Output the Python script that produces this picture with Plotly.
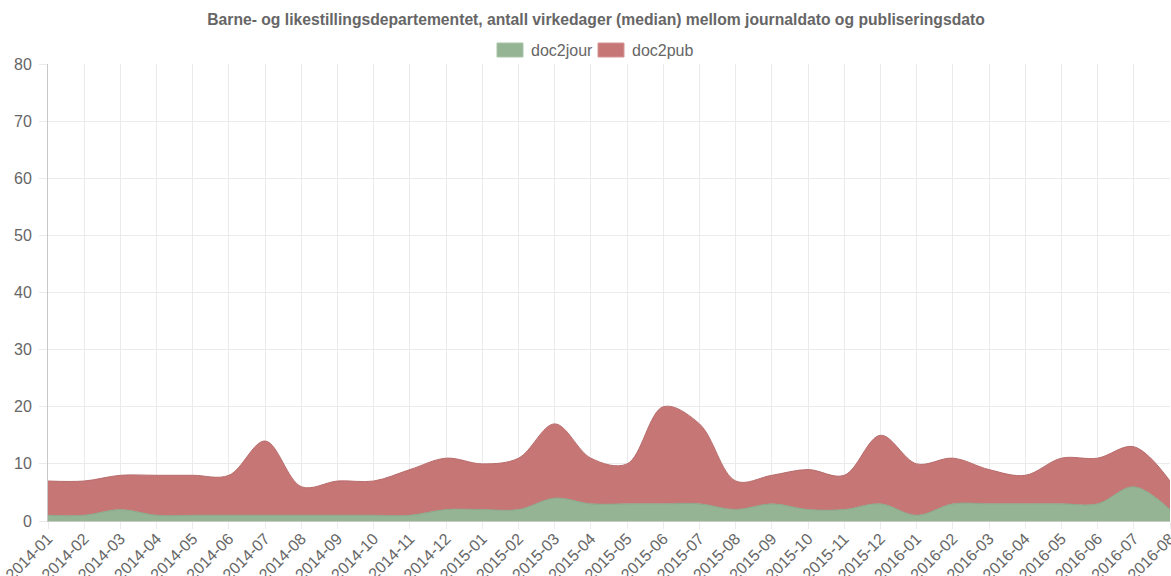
import plotly.graph_objects as go

# ── Data: median working days, Barne- og likestillingsdepartementet ──
months = [
    "2014-01", "2014-02", "2014-03", "2014-04", "2014-05", "2014-06",
    "2014-07", "2014-08", "2014-09", "2014-10", "2014-11", "2014-12",
    "2015-01", "2015-02", "2015-03", "2015-04", "2015-05", "2015-06",
    "2015-07", "2015-08", "2015-09", "2015-10", "2015-11", "2015-12",
    "2016-01", "2016-02", "2016-03", "2016-04", "2016-05", "2016-06",
    "2016-07", "2016-08",
]
doc2jour = [1, 1, 2, 1, 1, 1, 1, 1, 1, 1, 1, 2,
            2, 2, 4, 3, 3, 3, 3, 2, 3, 2, 2, 3,
            1, 3, 3, 3, 3, 3, 6, 2]
doc2pub = [6, 6, 6, 7, 7, 7, 13, 5, 6, 6, 8, 9,
           8, 9, 13, 8, 7, 17, 14, 5, 5, 7, 6, 12,
           9, 8, 6, 5, 8, 8, 7, 5]
y_ticks = [0, 10, 20, 30, 40, 50, 60, 70, 80]
series_names = ["doc2jour", "doc2pub"]

GREEN = "#94b494"
RED = "#c77676"
TEXT = "#666666"
GRID = "#ebebeb"

# plot area in pixels (used only to place the hand-drawn legend)
PX_L, PX_R, PX_T, PX_B = 48, 1170, 64, 521


def px_x(px):
    return (px - PX_L) / (PX_R - PX_L)


def px_y(py):
    return (PX_B - py) / (PX_B - PX_T)


fig = go.Figure()

fig.add_trace(go.Scatter(
    name=series_names[0],
    x=months,
    y=doc2jour,
    mode="lines",
    stackgroup="one",
    line=dict(color="#8aa88a", width=1, shape="spline", smoothing=1),
    fillcolor=GREEN,
))

fig.add_trace(go.Scatter(
    name=series_names[1],
    x=months,
    y=doc2pub,
    mode="lines",
    stackgroup="one",
    line=dict(color="#b86c6c", width=1, shape="spline", smoothing=1),
    fillcolor=RED,
))

# ── Chart.js-style legend: wide boxes + labels ───────────────
legend_items = [(497, GREEN, "#a9c4a9"), (598, RED, "#d69494")]
shapes = []
annotations = []
for (left, fill, border), name in zip(legend_items, series_names):
    shapes.append(dict(
        type="rect", xref="paper", yref="paper",
        x0=px_x(left), x1=px_x(left + 26),
        y0=px_y(57), y1=px_y(43),
        fillcolor=fill, line=dict(color=border, width=1),
    ))
    annotations.append(dict(
        xref="paper", yref="paper",
        x=px_x(left + 32), y=px_y(50),
        xanchor="left", yanchor="middle",
        text=name, showarrow=False,
        font=dict(size=16, color=TEXT),
    ))

fig.update_layout(
    title=dict(
        text="<b>Barne- og likestillingsdepartementet, antall virkedager (median) "
             "mellom journaldato og publiseringsdato</b>",
        font=dict(size=15.7, color=TEXT, family="Liberation Sans"),
        xref="container", x=596 / 1171, xanchor="center",
        y=1 - 20 / 576, yanchor="middle",
    ),
    width=1171,
    height=576,
    paper_bgcolor="white",
    plot_bgcolor="white",
    font=dict(color=TEXT, family="Liberation Sans", size=16),
    showlegend=False,
    shapes=shapes,
    annotations=annotations,
    xaxis=dict(
        type="category",
        range=[0, 31],
        tickangle=-45,
        showgrid=True,
        gridcolor=GRID,
        ticks="outside",
        ticklen=7,
        tickcolor=GRID,
        tickfont=dict(size=16, color=TEXT),
        ticklabelstandoff=-6,
        showline=True,
        linecolor="#c8c8c8",
        zeroline=False,
    ),
    yaxis=dict(
        range=[0, 80],
        tickvals=y_ticks,
        showgrid=True,
        gridcolor=GRID,
        ticks="outside",
        ticklen=8,
        tickcolor=GRID,
        tickfont=dict(size=16, color=TEXT),
        ticklabelstandoff=4,
        showline=True,
        linecolor="#c8c8c8",
        zeroline=False,
    ),
    margin=dict(l=48, r=1, t=64, b=55, autoexpand=False),
)

fig.write_html(
    "out.html",
    config={"displayModeBar": False},
    post_script="document.body.style.margin='0';",
)
